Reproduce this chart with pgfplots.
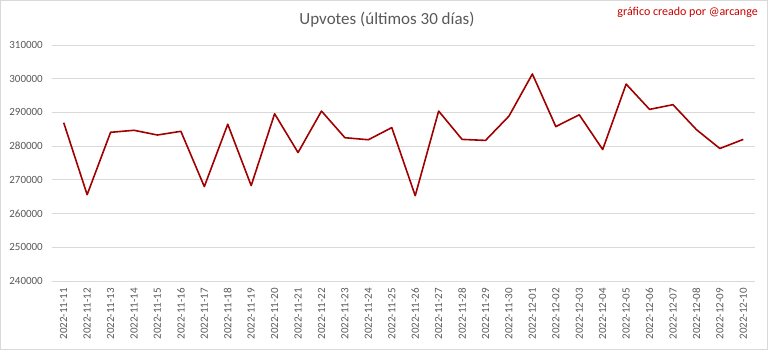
\documentclass[border=0pt]{standalone}
\usepackage{fontspec}
\setmainfont{Carlito}
\usepackage{pgfplots}
\pgfplotsset{compat=1.18}
\definecolor{linered}{RGB}{160,0,0}
\definecolor{markred}{RGB}{200,0,0}
\definecolor{gridgray}{RGB}{217,217,217}
\definecolor{labgray}{RGB}{89,89,89}
\begin{document}
\begin{tikzpicture}
\path[use as bounding box] (0,0) rectangle (768pt,350pt);
\draw[color=gridgray, line width=0.75pt] (0.5pt,0.5pt) rectangle (767.5pt,349.5pt);
\begin{axis}[
  at={(52pt,69pt)}, anchor=south west,
  scale only axis, width=703pt, height=236pt,
  xmin=-0.5, xmax=29.5, ymin=240000, ymax=310000,
  ytick={240000,250000,260000,270000,280000,290000,300000,310000},
  xtick={0,...,29},
  xticklabels={2022-11-11,2022-11-12,2022-11-13,2022-11-14,2022-11-15,2022-11-16,2022-11-17,2022-11-18,2022-11-19,2022-11-20,2022-11-21,2022-11-22,2022-11-23,2022-11-24,2022-11-25,2022-11-26,2022-11-27,2022-11-28,2022-11-29,2022-11-30,2022-12-01,2022-12-02,2022-12-03,2022-12-04,2022-12-05,2022-12-06,2022-12-07,2022-12-08,2022-12-09,2022-12-10},
  axis line style={draw=none},
  major tick length=0pt,
  ymajorgrids, grid style={gridgray, line width=0.75pt},
  scaled y ticks=false,
  /pgf/number format/assume math mode=true,
  yticklabel style={/pgf/number format/fixed, /pgf/number format/1000 sep={}, inner sep=0pt, anchor=east},
  xticklabel style={rotate=90, anchor=east, inner sep=0pt},
  yticklabel shift=9pt,
  xticklabel shift=7pt,
  tick label style={font=\fontsize{11}{13}\selectfont, text=labgray},
]
\addplot[linered, line width=1.6pt, mark=none, line join=round] coordinates {
(0,286950) (1,265600) (2,284100) (3,284700) (4,283300) (5,284400) (6,268000) (7,286500) (8,268300) (9,289600)
(10,278100) (11,290400) (12,282500) (13,281900) (14,285500) (15,265300) (16,290400) (17,282000) (18,281700) (19,288900)
(20,301400) (21,285800) (22,289300) (23,279000) (24,298400) (25,290900) (26,292300) (27,284900) (28,279300) (29,282000)
};
\end{axis}
\node[font=\fontsize{17}{20}\selectfont, text=labgray] at (387pt,330pt) {Upvotes (últimos 30 días)};
\node[font=\fontsize{12}{14}\selectfont, text=markred, anchor=east, inner sep=0pt] at (758pt,338pt) {gráfico creado por @arcange};
\end{tikzpicture}
\end{document}
